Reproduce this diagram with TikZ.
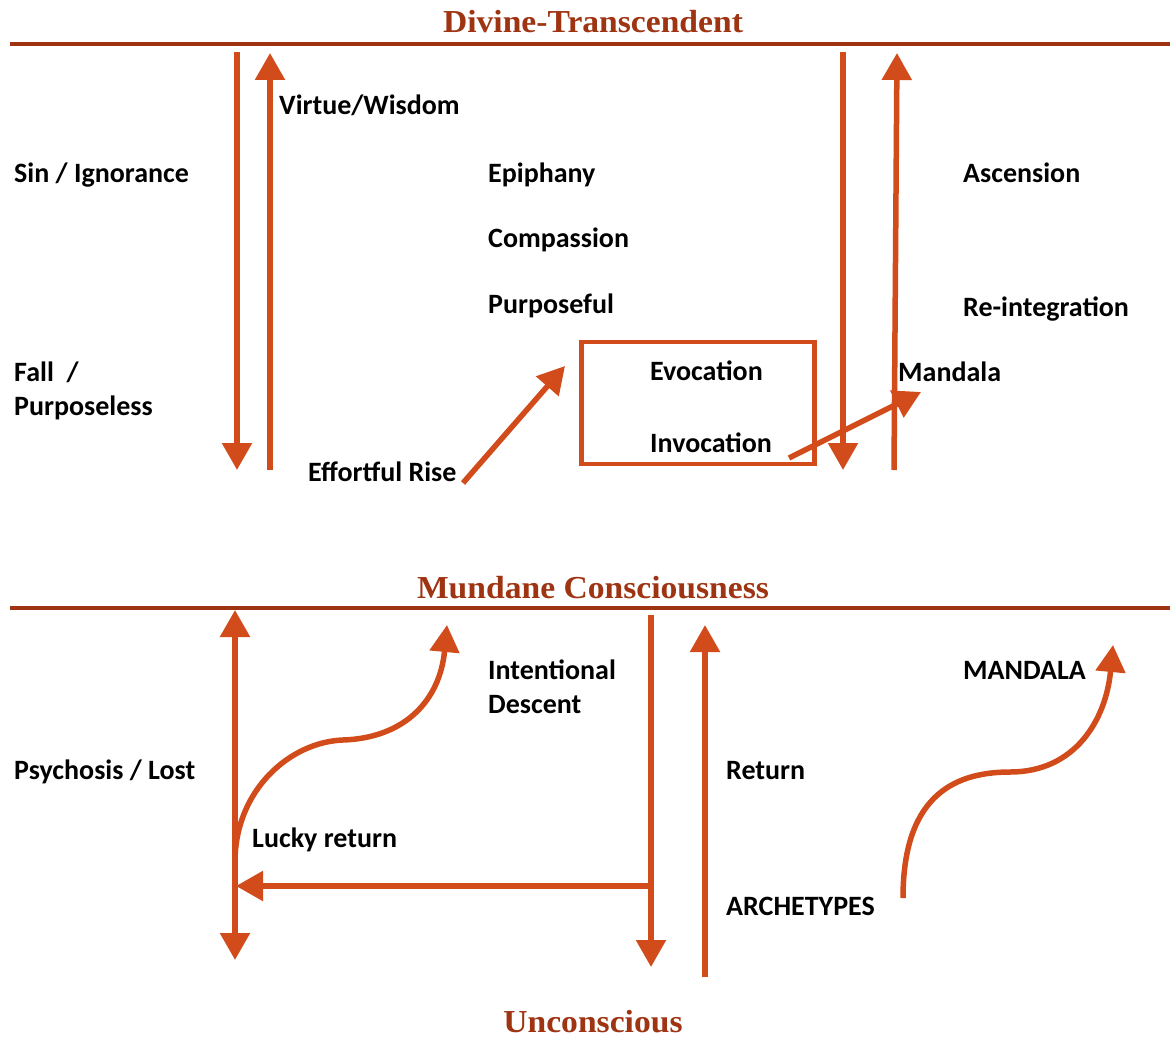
\documentclass[tikz,border=0pt]{standalone}
\usepackage{fontspec}
\setmainfont{Carlito}
\newfontfamily\headfont[FakeStretch=1.05]{Liberation Serif}
\usetikzlibrary{arrows.meta}
\definecolor{arr}{HTML}{D24B1A}
\definecolor{headc}{HTML}{9E3412}
\begin{document}
\begin{tikzpicture}[x=1pt,y=-1pt,
  lbl/.style={font=\fontsize{28}{34}\selectfont\bfseries, inner sep=0pt, anchor=base west, align=left},
  hd/.style={font=\headfont\fontsize{32}{38}\selectfont\bfseries, text=headc, inner sep=0pt, anchor=base},
  arw/.style={draw=arr, line width=5.5pt, -{Triangle[width=29pt,length=27pt]}},
  darw/.style={draw=arr, line width=5.5pt, {Triangle[width=29pt,length=27pt]}-{Triangle[width=29pt,length=27pt]}},
  rulel/.style={draw=headc, line width=4pt}]
\useasboundingbox (0,0) rectangle (1170,1041);
\fill[white] (0,0) rectangle (1170,1041);

% headings and rules
\node[hd] (divine) at (593,33) {Divine-Transcendent};
\node[hd] (mundane) at (593,598) {Mundane Consciousness};
\node[hd] (uncons) at (593,1032) {Unconscious};
\coordinate (r1a) at (10,44); \coordinate (r1b) at (1170,44);
\coordinate (r2a) at (10,608); \coordinate (r2b) at (1170,608);
\draw[rulel] (r1a) -- (r1b);
\draw[rulel] (r2a) -- (r2b);

% labels upper
\node[lbl] (virtue) at (279,114) {Virtue/Wisdom};
\node[lbl] (sin) at (14,182) {Sin / Ignorance};
\node[lbl] (epiph) at (488,182) {Epiphany};
\node[lbl] (ascen) at (963,182) {Ascension};
\node[lbl] (compa) at (488,247) {Compassion};
\node[lbl] (purpf) at (488,313) {Purposeful};
\node[lbl] (reint) at (963,316) {Re-integration};
\node[lbl] (fall) at (14,415) {Fall~ /\\Purposeless};
\node[lbl] (evoc) at (650,380) {Evocation};
\node[lbl] (mand) at (898,381) {Mandala};
\node[lbl] (invoc) at (650,452) {Invocation};
\node[lbl] (effort) at (308,481) {Effortful Rise};

% box
\node[draw=arr, line width=4.5pt, minimum width=233pt, minimum height=122pt, inner sep=0pt] (box) at (698,403) {};

% labels lower
\node[lbl] (intent) at (488,713) {Intentional\\Descent};
\node[lbl] (mandB) at (963,679) {MANDALA};
\node[lbl] (psych) at (14,779) {Psychosis / Lost};
\node[lbl] (ret) at (726,779) {Return};
\node[lbl] (lucky) at (252,847) {Lucky return};
\node[lbl] (arch) at (726,915) {ARCHETYPES};

% upper arrows
\coordinate (a1s) at (237,52);  \coordinate (a1e) at (237,470);
\coordinate (a2s) at (270,470); \coordinate (a2e) at (270,53);
\coordinate (a3s) at (843,52);  \coordinate (a3e) at (843,470);
\coordinate (a4s) at (894,470); \coordinate (a4e) at (897,53);
\coordinate (rs) at (463,483);  \coordinate (re) at (565,366);
\coordinate (is) at (789,458);  \coordinate (ie) at (921,392);
\draw[arw] (a1s) -- (a1e);
\draw[arw] (a2s) -- (a2e);
\draw[arw] (a3s) -- (a3e);
\draw[arw] (a4s) -- (a4e);
\draw[arw] (rs) -- (re);
\draw[arw] (is) -- (ie);

% lower arrows
\coordinate (b1s) at (235,610); \coordinate (b1e) at (235,960);
\coordinate (lcs) at (235,862); \coordinate (lcm) at (343,740); \coordinate (lce) at (447,625);
\coordinate (hs) at (651,886);  \coordinate (he) at (236,886);
\coordinate (ds) at (651,615);  \coordinate (de) at (651,967);
\coordinate (us) at (705,977);  \coordinate (ue) at (705,625);
\coordinate (ms) at (903,898);  \coordinate (mm) at (1010,772); \coordinate (me) at (1113,645);
\draw[darw] (b1s) -- (b1e);
\draw[arw] (lcs) .. controls (235,790) and (290,742) .. (lcm) .. controls (405,738) and (440,700) .. (lce);
\draw[arw] (hs) -- (he);
\draw[arw] (ds) -- (de);
\draw[arw] (us) -- (ue);
\draw[arw] (ms) .. controls (903,800) and (950,772) .. (mm) .. controls (1075,772) and (1106,720) .. (me);
\end{tikzpicture}
\end{document}
